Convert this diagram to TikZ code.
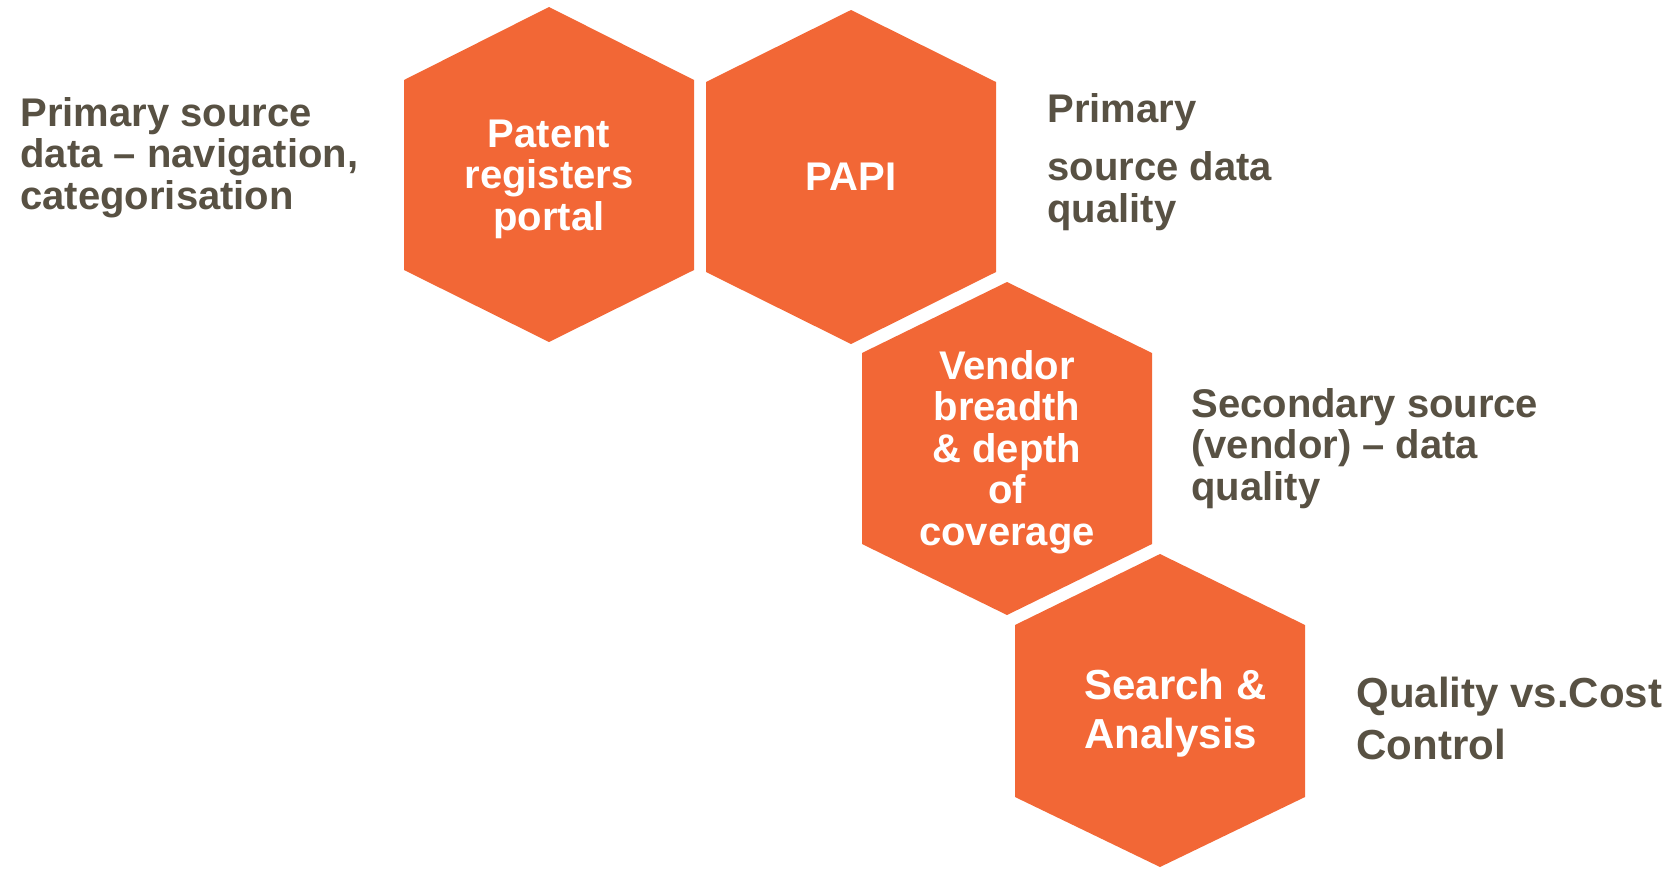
\documentclass[tikz,border=0pt]{standalone}
\usepackage{fontspec}
\setmainfont{Liberation Sans}
\definecolor{naranja}{RGB}{242,103,54}
\definecolor{gristexto}{RGB}{88,81,67}
\begin{document}
\begin{tikzpicture}[x=0.5pt, y=-0.5pt,
    hexa/.style={fill=naranja},
    celda/.style={text=white, font=\bfseries\fontsize{20}{20.75}\selectfont, align=center, inner sep=0pt},
    nota/.style={text=gristexto, font=\bfseries\fontsize{20}{20.75}\selectfont, align=left, anchor=base west, inner sep=0pt}]
        \useasboundingbox (0,0) rectangle (1675,868);
        % panal
        \fill[hexa] (549,7) -- (694,80) -- (694,270) -- (549,342) -- (404,270) -- (404,80) -- cycle;
        \fill[hexa] (851,10) -- (996,82) -- (996,272) -- (851,344) -- (706,272) -- (706,82) -- cycle;
        \fill[hexa] (1007,282) -- (1152,353) -- (1152,544) -- (1007,615) -- (862,544) -- (862,353) -- cycle;
        \fill[hexa] (1160,554) -- (1305,625) -- (1305,797) -- (1160,867) -- (1015,797) -- (1015,625) -- cycle;
        % textos de las celdas
        \node[celda] (portal) at (549,179) {Patent\\registers\\portal};
        \node[celda] (papi) at (851,177) {PAPI};
        \node[celda] (vendor) at (1007,452) {Vendor\\breadth\\\& depth\\of\\coverage};
        \node[celda, align=left, anchor=base west, font=\bfseries\fontsize{21}{24.5}\selectfont] (search) at (1084,748) {Search \&\\Analysis};
        % notas laterales (ancla en la ultima linea)
        \node[nota] (notaportal) at (20,209) {Primary source\\data – navigation,\\categorisation};
        \node[nota] (notapapi) at (1047,222) {Primary\\[8.5pt]source data\\quality};
        \node[nota] (notavendor) at (1191,500) {Secondary source\\(vendor) – data\\quality};
        \node[nota, font=\bfseries\fontsize{21}{26}\selectfont] (notasearch) at (1356,759) {Quality vs.Cost\\Control};
    \end{tikzpicture}
\end{document}
